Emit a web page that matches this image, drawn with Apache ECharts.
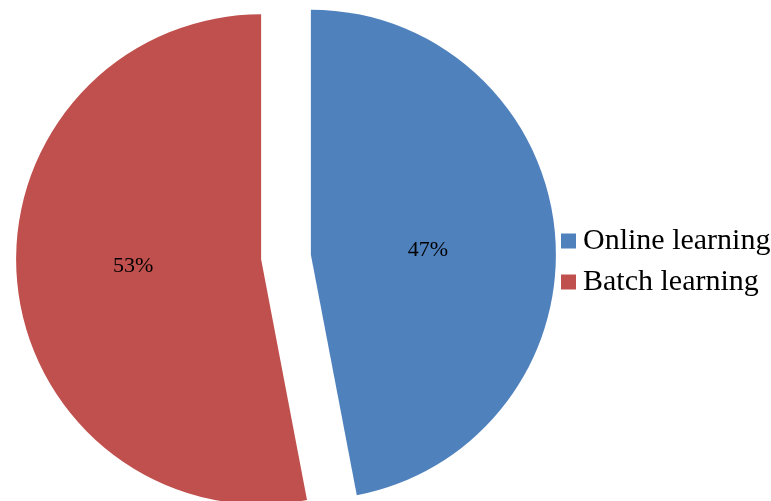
<!DOCTYPE html>
<html>
<head>
<meta charset="utf-8">
<script src="https://cdn.jsdelivr.net/npm/echarts@6/dist/echarts.min.js"></script>
<style>
  html, body { margin: 0; padding: 0; background: #ffffff; }
  #chart { width: 771px; height: 501px; }
</style>
</head>
<body>
<div id="chart"></div>
<script>
// Share of learning modes
const categories = ['Online learning', 'Batch learning'];
const shares = [47, 53];
const colors = ['#4F81BD', '#C0504D'];
// per-label tweaks that nudge each in-slice percentage (an empty spacer line above or below)
const labelTweaks = [
  { padding: [0, 16, 0, 0], formatter: '{sp14|}\n{d}%' },
  { padding: [0, 6, 0, 0], formatter: '{d}%\n{sp10|}' }
];

const chart = echarts.init(document.getElementById('chart'), null, { renderer: 'canvas' });

const pieData = categories.map((name, i) => ({
  name: name,
  value: shares[i],
  selected: true,
  itemStyle: { color: colors[i] },
  select: { itemStyle: { color: colors[i] } },
  label: labelTweaks[i]
}));

chart.setOption({
  animation: false,
  backgroundColor: '#ffffff',
  color: colors,
  legend: {
    orient: 'vertical',
    left: 556,
    top: 219,
    icon: 'rect',
    itemWidth: 15,
    itemHeight: 15,
    itemGap: 7,
    selectedMode: false,
    textStyle: {
      fontFamily: '"Liberation Serif", "Times New Roman", serif',
      fontSize: 30,
      lineHeight: 31,
      color: '#000000',
      padding: [3, 0, 0, 2]
    },
    data: categories
  },
  series: [{
    type: 'pie',
    center: [286, 257],
    radius: [0, 245],
    startAngle: 90,
    clockwise: true,
    selectedMode: 'multiple',
    selectedOffset: 25,
    avoidLabelOverlap: false,
    emphasis: { disabled: true },
    label: {
      show: true,
      position: 'inside',
      formatter: '{d}%',
      fontFamily: '"Liberation Serif", "Times New Roman", serif',
      fontSize: 22,
      lineHeight: 22,
      color: '#000000',
      rich: {
        sp14: { height: 14, lineHeight: 14, fontSize: 1 },
        sp10: { height: 10, lineHeight: 10, fontSize: 1 }
      }
    },
    labelLine: { show: false },
    itemStyle: { borderWidth: 0 },
    data: pieData
  }]
});
</script>
</body>
</html>
